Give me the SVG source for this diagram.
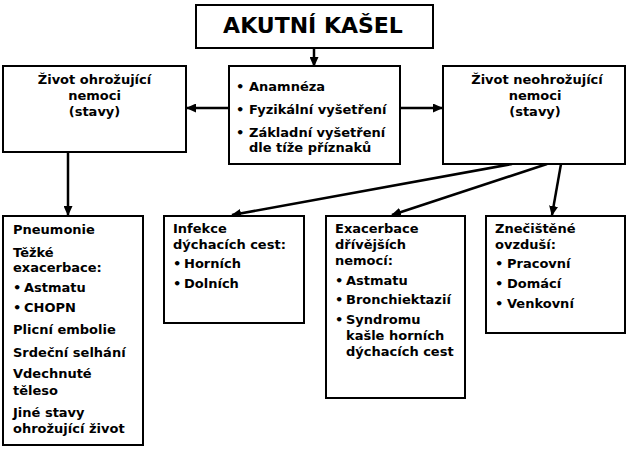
<svg xmlns="http://www.w3.org/2000/svg" width="626" height="449" viewBox="0 0 626 449">
<style>
.box{fill:#fff;stroke:#000;stroke-width:2}
text{font-family:"DejaVu Sans",Verdana,sans-serif;font-weight:bold;font-size:13px;fill:#000}
.c{text-anchor:middle}
.title{font-size:22px}
.con{stroke:#000;stroke-width:2.5;fill:none;marker-end:url(#ah)}
</style>
<defs>
<marker id="ah" markerUnits="userSpaceOnUse" markerWidth="10" markerHeight="9" refX="9" refY="4.5" orient="auto">
<path d="M0,0 L10,4.5 L0,9 z" fill="#000"/>
</marker>
</defs>
<rect width="626" height="449" fill="#fff"/>
<g id="connectors">
<line class="con" x1="314" y1="48" x2="314" y2="66"/>
<line class="con" x1="229" y1="108" x2="187" y2="108"/>
<line class="con" x1="400" y1="108" x2="442" y2="108"/>
<line class="con" x1="68" y1="152" x2="68" y2="215"/>
<line class="con" x1="512" y1="164" x2="232" y2="215"/>
<line class="con" x1="547" y1="164" x2="392" y2="215"/>
<line class="con" x1="561" y1="164" x2="552" y2="215"/>
</g>
<g id="title">
<rect class="box" x="196" y="5" width="237" height="43"/>
<text class="c title" x="313" y="33">AKUTNÍ KAŠEL</text>
</g>
<g id="assessment">
<rect class="box" x="229" y="66" width="171" height="98"/>
<text x="236" y="91">•</text><text x="249" y="91">Anamnéza</text>
<text x="236" y="114">•</text><text x="249" y="114">Fyzikální vyšetření</text>
<text x="236" y="137">•</text><text x="249" y="137">Základní vyšetření</text>
<text x="249" y="152">dle tíže příznaků</text>
</g>
<g id="life-threatening">
<rect class="box" x="3" y="66" width="183" height="86"/>
<text class="c" x="94.5" y="84">Život ohrožující</text>
<text class="c" x="94.5" y="100">nemoci</text>
<text class="c" x="94.5" y="116">(stavy)</text>
</g>
<g id="non-life-threatening">
<rect class="box" x="443" y="66" width="182" height="98"/>
<text class="c" x="537" y="84">Život neohrožující</text>
<text class="c" x="535" y="100">nemoci</text>
<text class="c" x="535" y="116">(stavy)</text>
</g>
<g id="serious-conditions">
<rect class="box" x="3" y="216" width="140" height="229"/>
<text x="13" y="234">Pneumonie</text>
<text x="13" y="257">Těžké</text>
<text x="13" y="272">exacerbace:</text>
<text x="13" y="292">•</text><text x="24" y="292">Astmatu</text>
<text x="13" y="312">•</text><text x="24" y="312">CHOPN</text>
<text x="13" y="334">Plicní embolie</text>
<text x="13" y="357">Srdeční selhání</text>
<text x="13" y="378">Vdechnuté</text>
<text x="13" y="395">těleso</text>
<text x="13" y="417">Jiné stavy</text>
<text x="13" y="433">ohrožující život</text>
</g>
<g id="infections">
<rect class="box" x="164" y="216" width="140" height="107"/>
<text x="173" y="233">Infekce</text>
<text x="173" y="249">dýchacích cest:</text>
<text x="173" y="268">•</text><text x="184" y="268">Horních</text>
<text x="173" y="288">•</text><text x="184" y="288">Dolních</text>
</g>
<g id="exacerbations">
<rect class="box" x="326" y="216" width="139" height="182"/>
<text x="335" y="233">Exacerbace</text>
<text x="335" y="249">dřívějších</text>
<text x="335" y="265">nemocí:</text>
<text x="335" y="285">•</text><text x="346" y="285">Astmatu</text>
<text x="335" y="304">•</text><text x="346" y="304">Bronchiektazií</text>
<text x="335" y="324">•</text><text x="346" y="324">Syndromu</text>
<text x="346" y="340">kašle horních</text>
<text x="346" y="356">dýchacích cest</text>
</g>
<g id="pollution">
<rect class="box" x="486" y="216" width="139" height="117"/>
<text x="495" y="233">Znečištěné</text>
<text x="495" y="249">ovzduší:</text>
<text x="495" y="268">•</text><text x="507" y="268">Pracovní</text>
<text x="495" y="288">•</text><text x="507" y="288">Domácí</text>
<text x="495" y="308">•</text><text x="507" y="308">Venkovní</text>
</g>
</svg>
